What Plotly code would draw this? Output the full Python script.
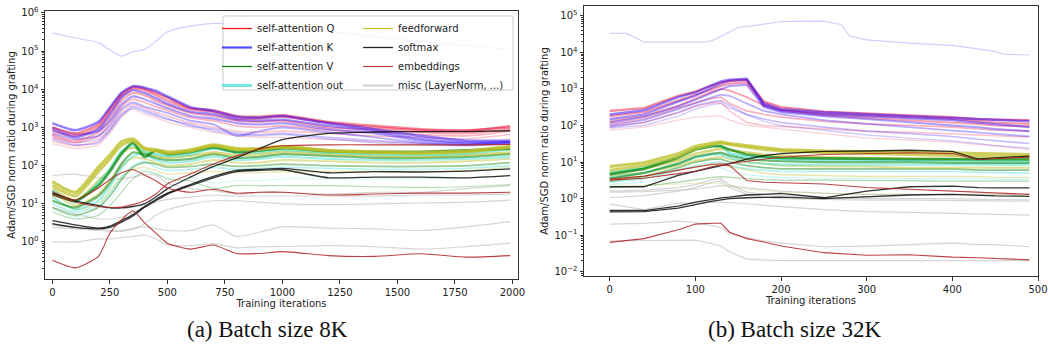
import plotly.graph_objects as go

# ---------------- data: left panel (batch size 8K) ----------------
L_X = [0, 100, 200, 250, 300, 350, 400, 450, 500, 600, 700, 800, 900, 1000, 1200, 1400, 1600, 1800, 1990]

L_KTOP = [3e5, 2.2e5, 1.66e5, 1.07e5, 7.4e4, 9.6e4, 1.1e5, 1.8e5, 3.2e5, 4.5e5, 5.3e5, 5.2e5, 4.8e5, 4.3e5, 3.3e5, 2.4e5, 1.8e5, 1.4e5, 1.1e5]

L_Q1 = [1000, 700, 1200, 3000, 7500, 11500, 10500, 8000, 6000, 3200, 2800, 2000, 1900, 2100, 1400, 1100, 900, 850, 1000]
L_K1 = [1300, 850, 1400, 3300, 8000, 12000, 11000, 9000, 6500, 3400, 2700, 1900, 1800, 2000, 1300, 900, 600, 450, 450]
L_Q2 = [800, 600, 1000, 2500, 6500, 10500, 9500, 7000, 5000, 3000, 2500, 1700, 1700, 1900, 1300, 1000, 850, 800, 1100]
L_K2 = [900, 550, 900, 2200, 6000, 9500, 8000, 5800, 4200, 2600, 2200, 1600, 1500, 1600, 1100, 800, 500, 400, 420]
L_Q3 = [650, 450, 750, 1800, 5000, 8000, 7000, 5000, 3800, 2400, 2000, 1500, 1400, 1500, 1000, 900, 750, 700, 900]
L_K3 = [1000, 650, 800, 1500, 4000, 6500, 5500, 4200, 3200, 2000, 1700, 1300, 1200, 1300, 900, 700, 450, 380, 400]
L_Q4 = [550, 400, 600, 1300, 3500, 5500, 4500, 3500, 2800, 1800, 1500, 1100, 1000, 1100, 850, 750, 650, 600, 800]
L_K4 = [700, 500, 600, 1100, 3000, 4500, 3500, 2900, 2400, 1500, 1200, 600, 800, 1000, 750, 550, 400, 350, 380]
L_Q5 = [450, 330, 450, 900, 2500, 4000, 3200, 2500, 2000, 1300, 1000, 800, 750, 800, 700, 600, 550, 500, 650]
L_K5 = [500, 350, 400, 800, 2000, 3500, 2800, 2200, 1700, 1100, 900, 700, 650, 700, 550, 450, 380, 350, 420]
L_Q6 = [380, 280, 350, 700, 1800, 3000, 2200, 1800, 1400, 1000, 750, 600, 550, 550, 480, 420, 380, 360, 500]
L_K6 = [600, 400, 500, 900, 2200, 3200, 2500, 2000, 1600, 1200, 800, 650, 600, 650, 500, 400, 350, 330, 370]

L_F1 = [38, 20, 90, 190, 420, 500, 290, 260, 230, 260, 350, 280, 280, 320, 250, 230, 220, 240, 320]
L_F2 = [30, 16, 70, 150, 340, 450, 270, 240, 210, 240, 330, 260, 270, 300, 240, 220, 210, 230, 300]
L_V1 = [18, 12, 30, 70, 200, 400, 170, 250, 200, 230, 300, 230, 250, 290, 240, 230, 230, 250, 280]
L_O1 = [22, 11, 35, 80, 230, 350, 230, 200, 180, 200, 280, 220, 230, 260, 220, 200, 190, 210, 270]
L_F3 = [25, 12, 40, 80, 220, 300, 220, 180, 160, 180, 220, 190, 200, 230, 200, 180, 170, 190, 220]
L_V2 = [12, 8, 16, 35, 110, 220, 200, 160, 140, 150, 200, 160, 170, 200, 180, 160, 160, 170, 200]
L_O2 = [15, 7, 12, 28, 85, 180, 200, 140, 120, 130, 170, 140, 150, 170, 150, 140, 140, 150, 170]
L_F4 = [20, 9, 18, 40, 95, 160, 150, 120, 100, 110, 140, 120, 120, 140, 130, 120, 120, 130, 150]
L_V3 = [8, 5, 8, 16, 42, 90, 120, 110, 90, 95, 110, 95, 100, 110, 100, 95, 95, 100, 120]
L_O3 = [10, 6, 9, 19, 48, 100, 130, 90, 75, 80, 90, 80, 85, 90, 85, 80, 80, 85, 100]
L_F5 = [16, 7, 10, 22, 52, 80, 90, 75, 60, 65, 70, 65, 65, 70, 70, 70, 70, 75, 90]
L_V4 = [6, 4, 5, 9, 20, 45, 70, 60, 45, 40, 25, 30, 30, 30, 30, 28, 27, 28, 32]
L_O4 = [7, 4.5, 6, 12, 30, 60, 80, 65, 50, 50, 35, 40, 40, 45, 45, 45, 45, 48, 55]

L_S1 = [19, 12, 9, 7.8, 7.8, 8.5, 10, 15, 25, 50, 95, 160, 280, 480, 700, 760, 780, 780, 820]
L_S2 = [3.6, 2.8, 2.3, 2.6, 3.6, 5.2, 8.5, 13, 19, 32, 52, 75, 80, 85, 65, 70, 68, 72, 82]
L_S3 = [3.0, 2.4, 2.2, 2.4, 3.3, 4.8, 8, 12, 18, 30, 48, 70, 75, 78, 48, 50, 50, 48, 55]

L_E1 = [0.33, 0.21, 0.42, 1.7, 3.8, 6.6, 3.2, 1.7, 0.93, 0.65, 0.83, 0.5, 0.5, 0.56, 0.44, 0.42, 0.49, 0.4, 0.44]
L_E2 = [21, 12.6, 26, 43, 65, 78, 57, 40, 26, 20, 24, 19, 20, 20, 17, 18, 19, 19, 20]
L_E3 = [17, 11, 8.5, 8, 8.2, 9.5, 12, 18, 33, 60, 110, 180, 270, 330, 350, 350, 350, 350, 360]

L_G1 = [55, 60, 48, 45, 45, 50, 58, 55, 35, 25, 22, 18, 20, 20, 18, 20, 20, 25, 30]
L_G2 = [2.4, 2.2, 2.0, 1.9, 1.9, 2.2, 3, 5, 7, 10, 12, 12, 11, 10, 9.5, 10, 10.5, 11, 12.5]
L_G3 = [2.7, 2.4, 2.2, 2.0, 2.0, 2.2, 2.5, 2.2, 2.0, 2.0, 2.8, 1.4, 1.8, 2.5, 2.3, 2.2, 2.0, 2.5, 3.4]
L_G4 = [1.0, 1.0, 1.2, 1.2, 1.3, 1.4, 1.5, 1.2, 0.85, 0.8, 0.9, 0.7, 0.75, 0.76, 0.8, 0.75, 0.65, 0.75, 0.93]
L_G5 = [8, 5.5, 4, 4, 4.5, 6, 8, 11, 13, 15, 17, 16, 16, 16, 16, 16, 17, 17, 18]

# ---------------- data: right panel (batch size 32K) ----------------
R_X = [0, 40, 80, 100, 120, 130, 140, 160, 180, 200, 250, 300, 350, 400, 430, 450, 490]
R_XTOP = [0, 20, 40, 110, 120, 150, 170, 200, 250, 270, 280, 300, 350, 400, 450, 460, 490]
R_KTOP = [3.3e4, 3.3e4, 1.9e4, 1.9e4, 2.1e4, 4.8e4, 5.5e4, 7e4, 7.2e4, 5.8e4, 2.8e4, 2.2e4, 1.8e4, 1.55e4, 1.07e4, 9e3, 8.5e3]

R_K1 = [200, 260, 600, 800, 1300, 1600, 1800, 1900, 400, 280, 230, 200, 180, 160, 150, 140, 130]
R_Q1 = [250, 300, 650, 850, 1250, 1500, 1700, 1800, 450, 320, 240, 210, 190, 170, 150, 145, 140]
R_K2 = [150, 200, 450, 650, 1100, 1400, 1650, 1750, 350, 250, 200, 180, 160, 140, 120, 110, 90]
R_Q2 = [180, 230, 480, 700, 1000, 1200, 1400, 1500, 380, 270, 210, 190, 170, 150, 130, 120, 110]
R_K3 = [120, 170, 330, 500, 800, 1000, 1200, 1300, 320, 230, 180, 150, 120, 100, 90, 80, 70]
R_Q3 = [130, 180, 350, 550, 850, 1000, 900, 600, 350, 260, 190, 160, 140, 120, 110, 100, 95]
R_K4 = [100, 140, 280, 420, 600, 700, 650, 400, 250, 200, 140, 110, 90, 75, 65, 60, 50]
R_Q4 = [110, 150, 300, 420, 550, 600, 400, 250, 200, 170, 130, 110, 100, 90, 80, 75, 70]
R_K5 = [90, 120, 230, 350, 450, 480, 350, 200, 150, 120, 90, 70, 60, 50, 42, 38, 32]
R_Q5 = [95, 120, 220, 330, 420, 430, 250, 120, 100, 95, 80, 70, 65, 60, 55, 52, 48]
R_K6 = [85, 100, 180, 280, 380, 400, 300, 200, 130, 100, 75, 55, 45, 38, 32, 28, 24]
R_Q6 = [75, 90, 140, 170, 180, 180, 140, 100, 90, 80, 60, 45, 40, 35, 30, 28, 22]

R_F1 = [7.5, 9.5, 17, 27, 33, 36, 32, 28, 24, 22, 20, 19.5, 19, 18, 17, 16.5, 16]
R_F2 = [6, 8, 14, 23, 30, 33, 30, 26, 22, 20, 18, 17, 16, 15, 14, 14, 14]
R_V1 = [4.6, 6.5, 13, 22, 27, 27, 22, 16, 14, 13, 12.5, 12, 12, 12, 12, 12, 12]
R_O1 = [5, 7, 14, 24, 28, 28, 17, 14, 13, 12, 11.5, 11, 11, 11, 11, 10.5, 10.5]
R_F3 = [5, 6.5, 11, 17, 21, 23, 21, 18, 16, 15, 13.5, 13, 12.5, 12, 11.5, 11, 11]
R_V2 = [3.5, 5, 9, 14, 17, 18, 15, 12, 11, 10.5, 10, 10, 10, 9.5, 9.5, 9.5, 9.5]
R_O2 = [3.8, 5, 9, 13, 16, 16, 13, 10, 9, 8.5, 8.5, 8.5, 8.5, 8.5, 8.5, 8.5, 8.5]
R_F4 = [4.2, 5, 8, 11, 13, 14, 12, 10, 9, 8, 7.5, 7.5, 7, 7, 7, 7, 7]
R_V3 = [3, 4, 7, 10, 12, 12, 10, 8, 7, 6.5, 6.5, 6.5, 6.5, 6.5, 6, 6, 6]
R_O3 = [2.8, 3.5, 6, 8, 9.5, 10, 8, 6.5, 6, 5.5, 5.5, 5.5, 5.5, 5.5, 5.2, 5.2, 5]
R_F5 = [3.5, 4, 6, 7.5, 8.5, 9, 7.5, 6, 5, 4.5, 4.2, 4, 4, 4, 4, 3.8, 3.8]
R_V4 = [2.0, 2.2, 2.8, 3.3, 3.8, 4, 3.8, 3.5, 3.3, 3.2, 3.2, 3.1, 3, 3, 3, 3, 3]
R_O4 = [2.4, 2.8, 4.5, 6, 7, 7, 5.5, 4.5, 4, 3.8, 3.6, 3.5, 3.5, 3.5, 3.4, 3.4, 3.4]
R_F6 = [2.2, 2.3, 2.5, 2.6, 2.6, 2.6, 2.2, 1.8, 1.6, 1.5, 1.4, 1.3, 1.3, 1.25, 1.2, 1.2, 1.2]

R_S1 = [2.1, 2.1, 4.3, 5.5, 7, 7.8, 9, 12, 15, 17, 19.5, 20, 21, 19.5, 12, 13, 14.5]
R_S2 = [0.47, 0.47, 0.62, 0.8, 0.95, 1.05, 1.1, 1.25, 1.3, 1.38, 1.05, 1.6, 2.1, 2.2, 2.0, 1.95, 1.95]
R_S3 = [0.43, 0.44, 0.55, 0.7, 0.85, 0.92, 1.0, 1.05, 1.08, 1.1, 1.0, 1.1, 1.25, 1.3, 1.2, 1.18, 1.15]

R_E1 = [0.063, 0.08, 0.14, 0.2, 0.21, 0.21, 0.12, 0.08, 0.065, 0.05, 0.033, 0.028, 0.029, 0.025, 0.024, 0.023, 0.021]
R_E2 = [3.2, 3.6, 4.8, 5.6, 7.5, 8.3, 8, 3.1, 2.8, 2.7, 2.5, 2.0, 1.8, 1.6, 1.5, 1.45, 1.3]
R_E3 = [3.4, 4.1, 6, 7.2, 8.7, 8.8, 9, 10.5, 12, 13.5, 16, 17, 18, 17, 11.5, 12.5, 13.5]

R_GA = [0.2, 0.21, 0.24, 0.22, 0.18, 0.16, 0.11, 0.085, 0.07, 0.06, 0.048, 0.05, 0.055, 0.06, 0.055, 0.055, 0.048]
R_GB = [0.07, 0.072, 0.075, 0.073, 0.058, 0.05, 0.035, 0.022, 0.021, 0.02, 0.02, 0.02, 0.02, 0.02, 0.02, 0.02, 0.02]
R_GC = [0.7, 0.5, 0.75, 0.75, 0.8, 0.8, 0.78, 0.72, 0.65, 0.6, 0.5, 0.44, 0.42, 0.4, 0.38, 0.37, 0.35]
R_GD = [1.6, 1.7, 2.0, 2.4, 3.3, 3.5, 2.4, 1.5, 1.3, 1.2, 1.1, 1.0, 1.0, 1.0, 0.95, 0.95, 0.92]
R_GE = [1.05, 1.2, 1.6, 2.0, 2.8, 3.0, 2.0, 1.3, 1.1, 1.0, 0.95, 0.9, 0.9, 0.88, 0.86, 0.85, 0.85]
R_GF = [1.5, 1.55, 1.7, 1.8, 2.1, 2.3, 2.2, 2.0, 1.8, 1.6, 1.4, 1.3, 1.3, 1.3, 1.3, 1.3, 1.3]

# ticks / labels
L_XTICKS = [0, 250, 500, 750, 1000, 1250, 1500, 1750, 2000]
R_XTICKS = [0, 100, 200, 300, 400, 500]
L_YEXP = [0, 1, 2, 3, 4, 5, 6]
R_YEXP = [-2, -1, 0, 1, 2, 3, 4, 5]
LEGEND_COL1 = ["self-attention Q", "self-attention K", "self-attention V", "self-attention out"]
LEGEND_COL2 = ["feedforward", "softmax", "embeddings", "misc (LayerNorm, ...)"]
CAPTIONS = ["(a) Batch size 8K", "(b) Batch size 32K"]
XTITLE = "Training iterations"
YTITLE = "Adam/SGD norm ratio during grafting"

# ---------------- styling ----------------
W, H = 1048, 351
def fx(p):
    return p / W
def fy(p):
    return 1 - p / H

COL = dict(Q=(235, 0, 40), K=(40, 0, 255), V=(0, 128, 0), O=(64, 224, 208),
           F=(188, 189, 34), S=(0, 0, 0), E=(178, 34, 34), M=(190, 190, 190))
LEGCOL = dict(Q=(255, 0, 0), K=(0, 0, 255), V=(0, 128, 0), O=(64, 224, 208),
              F=(188, 189, 34), S=(0, 0, 0), E=(178, 34, 34), M=(190, 190, 190))

def rgba(c, a):
    return f"rgba({c[0]},{c[1]},{c[2]},{a:.3f})"

fig = go.Figure()

def add(xs, ys, key, alpha, width, side):
    ax = dict(xaxis="x", yaxis="y") if side == "L" else dict(xaxis="x2", yaxis="y2")
    shape = "spline" if side == "L" else "linear"
    fig.add_trace(go.Scatter(x=xs, y=ys, mode="lines",
                             line=dict(color=rgba(COL[key], alpha), width=width, shape=shape, smoothing=0.6),
                             showlegend=False, hoverinfo="skip", **ax))

def band(xs, lines, side, a_hi, a_lo, w_hi, w_lo):
    n = len(lines)
    for i in reversed(range(n)):
        k, ys = lines[i]
        t = i / (n - 1)
        add(xs, ys, k, a_hi + (a_lo - a_hi) * t, w_hi + (w_lo - w_hi) * t, side)

# left panel
for g in [L_G1, L_G2, L_G3, L_G4, L_G5]:
    add(L_X, g, "M", 0.65, 1.2, "L")
add(L_X, L_KTOP, "K", 0.2, 1.2, "L")
band(L_X, [("K", L_K1), ("Q", L_Q1), ("K", L_K2), ("Q", L_Q2), ("K", L_K3), ("Q", L_Q3),
           ("K", L_K4), ("Q", L_Q4), ("K", L_K5), ("Q", L_Q5), ("K", L_K6), ("Q", L_Q6)],
     "L", 0.5, 0.18, 2.6, 1.3)
band(L_X, [("F", L_F1), ("F", L_F2), ("V", L_V1), ("O", L_O1), ("F", L_F3), ("V", L_V2),
           ("O", L_O2), ("F", L_F4), ("V", L_V3), ("O", L_O3), ("F", L_F5), ("V", L_V4), ("O", L_O4)],
     "L", 0.75, 0.25, 3.2, 1.0)
for s in [L_S1, L_S2, L_S3]:
    add(L_X, s, "S", 0.8, 1.3, "L")
for e in [L_E1, L_E2, L_E3]:
    add(L_X, e, "E", 0.85, 1.1, "L")

# right panel
for g in [R_GA, R_GB, R_GC, R_GD, R_GE, R_GF]:
    add(R_X, g, "M", 0.65, 1.2, "R")
add(R_XTOP, R_KTOP, "K", 0.2, 1.2, "R")
band(R_X, [("K", R_K1), ("Q", R_Q1), ("K", R_K2), ("Q", R_Q2), ("K", R_K3), ("Q", R_Q3),
           ("K", R_K4), ("Q", R_Q4), ("K", R_K5), ("Q", R_Q5), ("K", R_K6), ("Q", R_Q6)],
     "R", 0.5, 0.18, 2.4, 1.3)
band(R_X, [("F", R_F1), ("F", R_F2), ("V", R_V1), ("O", R_O1), ("F", R_F3), ("V", R_V2),
           ("O", R_O2), ("F", R_F4), ("V", R_V3), ("O", R_O3), ("F", R_F5), ("V", R_V4),
           ("O", R_O4), ("F", R_F6)],
     "R", 0.75, 0.25, 3.0, 1.0)
for s in [R_S1, R_S2, R_S3]:
    add(R_X, s, "S", 0.8, 1.3, "R")
for e in [R_E1, R_E2, R_E3]:
    add(R_X, e, "E", 0.85, 1.1, "R")

# legend entries
LEG_STYLE1 = [("Q", 0.9, 1.3), ("K", 0.7, 2.2), ("V", 0.95, 1.3), ("O", 0.75, 3.0)]
LEG_STYLE2 = [("F", 0.95, 1.3), ("S", 0.85, 1.3), ("E", 0.9, 1.1), ("M", 0.6, 2.6)]
for name, (k, a, w) in zip(LEGEND_COL1, LEG_STYLE1):
    fig.add_trace(go.Scatter(x=[None], y=[None], mode="lines", name=name,
                             line=dict(color=rgba(LEGCOL[k], a), width=w), legend="legend"))
for name, (k, a, w) in zip(LEGEND_COL2, LEG_STYLE2):
    fig.add_trace(go.Scatter(x=[None], y=[None], mode="lines", name=name,
                             line=dict(color=rgba(LEGCOL[k], a), width=w), legend="legend2"))

FONT = "DejaVu Sans"
TXT = "#222"
AX = dict(showline=True, mirror=True, linecolor="#333", linewidth=1, ticks="outside",
          ticklen=3.5, tickwidth=0.8, tickcolor="#333", showgrid=False, zeroline=False,
          tickfont=dict(family=FONT, size=10, color=TXT), automargin=False)

def ylab(e):
    return "10<sup>" + (str(e) if e >= 0 else "\u2212" + str(-e)) + "</sup>"

def minor_vals(lo, hi):
    return [m * 10.0 ** e for e in range(lo, hi) for m in range(2, 10)]

fig.update_layout(
    width=W, height=H, margin=dict(l=0, r=0, t=0, b=0), autosize=False,
    paper_bgcolor="white", plot_bgcolor="white",
    font=dict(family=FONT, size=10, color=TXT),
    xaxis=dict(AX, domain=[fx(45), fx(518)], range=[-32, 2024], tickvals=L_XTICKS, anchor="y",
               title=dict(text=XTITLE, font=dict(family=FONT, size=10, color=TXT), standoff=3)),
    yaxis=dict(AX, type="log", domain=[fy(279), fy(11)], range=[-0.97, 6.05], anchor="x",
               tickvals=[10.0 ** e for e in L_YEXP], ticktext=[ylab(e) for e in L_YEXP],
               minor=dict(tickvals=minor_vals(-1, 6), ticks="outside", ticklen=2, tickcolor="#333", tickwidth=0.6),
               title=dict(text=YTITLE, font=dict(family=FONT, size=10, color=TXT), standoff=3)),
    xaxis2=dict(AX, domain=[fx(584), fx(1038)], range=[-30, 500], tickvals=R_XTICKS, anchor="y2",
                title=dict(text=XTITLE, font=dict(family=FONT, size=10, color=TXT), standoff=3)),
    yaxis2=dict(AX, type="log", domain=[fy(276), fy(6)], range=[-2.12, 5.27], anchor="x2",
                tickvals=[10.0 ** e for e in R_YEXP], ticktext=[ylab(e) for e in R_YEXP],
                minor=dict(tickvals=minor_vals(-3, 5), ticks="outside", ticklen=2, tickcolor="#333", tickwidth=0.6),
                title=dict(text=YTITLE, font=dict(family=FONT, size=10, color=TXT), standoff=3)),
    legend=dict(x=fx(217), y=fy(14), xanchor="left", yanchor="top", bgcolor="rgba(0,0,0,0)",
                borderwidth=0, font=dict(family=FONT, size=10, color=TXT), tracegroupgap=0),
    legend2=dict(x=fx(358), y=fy(14), xanchor="left", yanchor="top", bgcolor="rgba(0,0,0,0)",
                 borderwidth=0, font=dict(family=FONT, size=10, color=TXT), tracegroupgap=0),
    shapes=[dict(type="rect", xref="paper", yref="paper", x0=fx(223), x1=fx(513), y0=fy(90), y1=fy(16),
                 layer="above", fillcolor="rgba(255,255,255,0.8)", line=dict(color="#cccccc", width=1))],
    annotations=[
        dict(text=CAPTIONS[0], x=fx(267), y=fy(329), xref="paper", yref="paper", showarrow=False,
             xanchor="center", yanchor="middle", font=dict(family="Liberation Serif", size=23, color="#111")),
        dict(text=CAPTIONS[1], x=fx(794), y=fy(329), xref="paper", yref="paper", showarrow=False,
             xanchor="center", yanchor="middle", font=dict(family="Liberation Serif", size=23, color="#111")),
    ],
)

fig.write_html("out.html")
